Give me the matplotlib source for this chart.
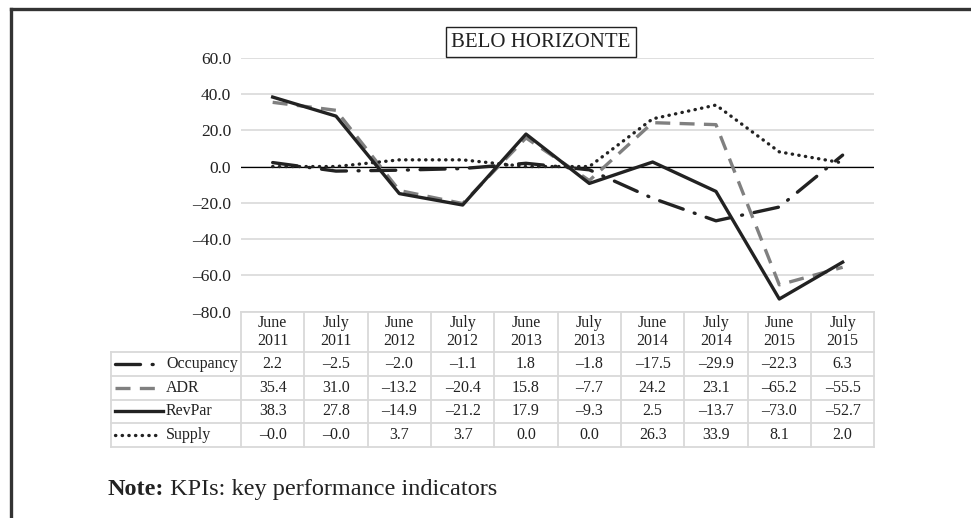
import matplotlib
matplotlib.use("Agg")
import matplotlib.pyplot as plt
from matplotlib.lines import Line2D
from matplotlib.ticker import FuncFormatter

plt.rcParams['font.family'] = ['Liberation Serif', 'DejaVu Serif']

# data
months = ["June", "July", "June", "July", "June", "July", "June", "July", "June", "July"]
years = ["2011", "2011", "2012", "2012", "2013", "2013", "2014", "2014", "2015", "2015"]
occupancy = [2.2, -2.5, -2.0, -1.1, 1.8, -1.8, -17.5, -29.9, -22.3, 6.3]
adr = [35.4, 31.0, -13.2, -20.4, 15.8, -7.7, 24.2, 23.1, -65.2, -55.5]
revpar = [38.3, 27.8, -14.9, -21.2, 17.9, -9.3, 2.5, -13.7, -73.0, -52.7]
supply = [-0.0, -0.0, 3.7, 3.7, 0.0, 0.0, 26.3, 33.9, 8.1, 2.0]
names = ["Occupancy", "ADR", "RevPar", "Supply"]
yticks = [-80, -60, -40, -20, 0, 20, 40, 60]

# styles
dark = "#222222"
grey = "#808080"
lw = 2.4
styles = {
    "Occupancy": dict(color=dark, linestyle=(0, (7.5, 3.5, 0.3, 3.5)), dash_capstyle="round"),
    "ADR": dict(color=grey, linestyle=(0, (4.5, 2.8)), dash_capstyle="butt"),
    "RevPar": dict(color=dark, linestyle="-"),
    "Supply": dict(color=dark, linestyle=(0, (0.1, 1.9)), dash_capstyle="round"),
}
series = {"Occupancy": occupancy, "ADR": adr, "RevPar": revpar, "Supply": supply}

W, H = 971, 518
fig = plt.figure(figsize=(W / 100, H / 100), dpi=100)


def px_axes(x0, y0, x1, y1):
    return fig.add_axes([x0 / W, 1 - y1 / H, (x1 - x0) / W, (y1 - y0) / H])


def fmt(v):
    return ("%.1f" % v).replace("-", "\u2013")


# main chart
plot_left, plot_right = 241, 874.3
plot_top, plot_bottom = 57.7, 311.7
ax = px_axes(plot_left, plot_top, plot_right, plot_bottom)
x = list(range(len(months)))
for name in names:
    ax.plot(x, series[name], lw=lw, solid_joinstyle="round", zorder=3, **styles[name])
ax.axhline(0, color="black", lw=0.9, zorder=2)
ax.set_xlim(-0.5, len(months) - 0.5)
ax.set_ylim(-80, 60)
ax.set_yticks(yticks)
ax.yaxis.set_major_formatter(FuncFormatter(lambda v, p: fmt(v)))
ax.grid(axis="y", color="#d9d9d9", lw=1.2, zorder=1)
ax.set_xticks([])
ax.tick_params(axis="y", length=0, pad=7, labelsize=12.5, labelcolor="#222222")
for s in ax.spines.values():
    s.set_visible(False)

# data table under the chart
label_w = (plot_left - 110.7) / ((plot_right - plot_left) / len(months))
header_h = 1.713
tab = px_axes(110.7, plot_bottom, plot_right, 447)
tab.set_xlim(-0.5 - label_w, len(months) - 0.5)
tab.set_ylim(header_h + len(names), 0)
tab.axis("off")
gc = "#d9d9d9"
glw = 1.3
tab.plot([-0.5, len(months) - 0.5], [0, 0], color=gc, lw=glw, clip_on=False)
for k in range(len(names) + 1):
    tab.plot([-0.5 - label_w, len(months) - 0.5], [header_h + k] * 2, color=gc, lw=glw, clip_on=False)
for i in range(len(months) + 1):
    tab.plot([-0.5 + i] * 2, [0, header_h + len(names)], color=gc, lw=glw, clip_on=False)
tab.plot([-0.5 - label_w] * 2, [header_h, header_h + len(names)], color=gc, lw=glw, clip_on=False)

for i in range(len(months)):
    tab.text(i, header_h / 2, months[i] + "\n" + years[i], ha="center", va="center",
             fontsize=11.5, linespacing=1.1, color="#222222")

unit = (plot_right - plot_left) / len(months)
g0 = -0.5 - label_w + 4.5 / unit
g1 = -0.5 - label_w + 54 / unit
for k, name in enumerate(names):
    yy = header_h + k + 0.5
    vals = series[name]
    for i in range(len(months)):
        tab.text(i, yy, fmt(vals[i]), ha="center", va="center", fontsize=11.5, color="#222222")
    tab.plot([g0, g1 - 0.1 if name != "RevPar" else g1 - 0.03], [yy, yy], lw=lw, clip_on=False,
             **styles[name])
    tab.text(g1 + 0.02, yy, name, ha="left", va="center", fontsize=11.5, color="#222222")

# title box
fig.text(541 / W, 1 - 42 / H, "BELO HORIZONTE", ha="center", va="center", fontsize=15,
         color="#222222",
         bbox=dict(boxstyle="square,pad=0.25", facecolor="white", edgecolor="#222222", lw=1))

# note
t1 = fig.text(108 / W, 1 - 500 / H, "Note:", fontsize=17.5, fontweight="bold", color="#222222",
              ha="left", va="bottom")
ax.annotate(" KPIs: key performance indicators", xy=(1, 0), xycoords=t1, fontsize=17.5,
            color="#222222", ha="left", va="bottom", annotation_clip=False)

# outer frame
fig.add_artist(Line2D([11 / W, 11 / W], [0, 1 - 9 / H], transform=fig.transFigure,
                      color="#333333", lw=2.4))
fig.add_artist(Line2D([11 / W, 1], [1 - 9 / H, 1 - 9 / H], transform=fig.transFigure,
                      color="#333333", lw=2.4))

fig.savefig("out.png", dpi=100)
